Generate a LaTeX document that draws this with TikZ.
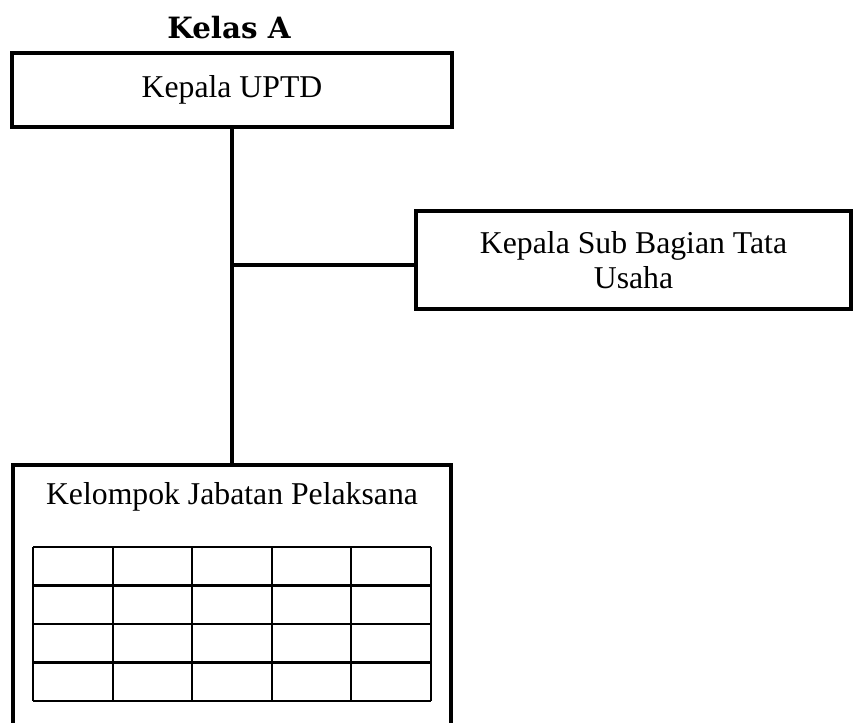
\documentclass[tikz,border=0pt]{standalone}
\usepackage{fontspec}
\setmainfont{Liberation Serif}
\newfontfamily\titlefont{DejaVu Serif}
\usetikzlibrary{positioning}

\begin{document}
\begin{tikzpicture}[x=0.75pt, y=-0.75pt,
    unitbox/.style={draw=black, line width=3.4pt, fill=white, inner sep=0pt, align=center},
    teks/.style={font=\fontsize{23.8}{26.5}\selectfont},
    garis/.style={line width=3.4pt},
    tabel/.style={line width=1.6pt}]
    \clip (0,0) rectangle (855,723);

    \node[font=\titlefont\bfseries\fontsize{22}{24}\selectfont] (judul) at (229,28) {Kelas A};

    \node[unitbox, teks, minimum width=330pt, minimum height=55.5pt] (uptd) at (232,90) {Kepala UPTD};
    \node[unitbox, teks, minimum width=326.25pt, minimum height=73.5pt] (tu) at (633.5,260) {Kepala Sub Bagian Tata\\Usaha};
    \node[unitbox, minimum width=328.5pt, minimum height=210pt] (jp) at (232,605) {};
    \node[teks] (jptitle) at (232,497) {Kelompok Jabatan Pelaksana};

    % garis komando
    \draw[garis] (uptd.south) -- (jp.north);
    \coordinate (cabang) at (232,265);
    \draw[garis] (cabang) -- (cabang -| tu.west);

    % tabel pelaksana 5 x 4
    \foreach \x in {0,...,5}
        \draw[tabel] ({33+\x*79.6},547) -- ({33+\x*79.6},701);
    \foreach \y in {0,...,4}
        \draw[tabel] (33,{547+\y*38.5}) -- (431,{547+\y*38.5});

\end{tikzpicture}
\end{document}
